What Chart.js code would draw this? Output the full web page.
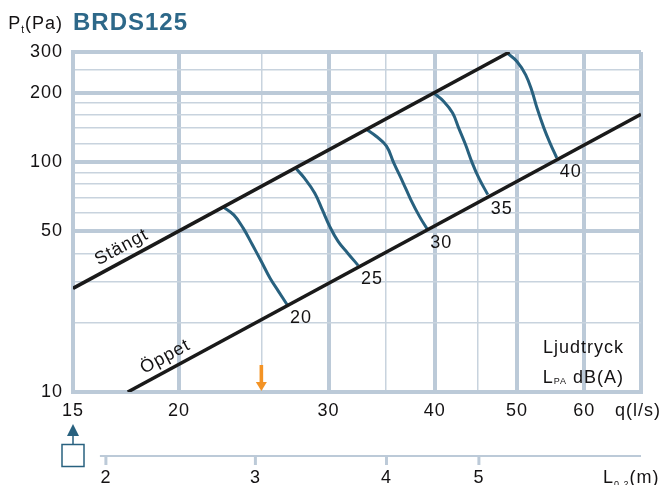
<!DOCTYPE html>
<html>
<head>
<meta charset="utf-8">
<title>BRDS125</title>
<script src="https://cdn.jsdelivr.net/npm/chart.js"></script>
<style>
  body { margin: 0; background: #fff; }
  #wrap { position: relative; width: 667px; height: 485px; }
</style>
</head>
<body>
<div id="wrap"><canvas id="chart"></canvas></div>
<script>
// damper lines, q (l/s) vs Pt (Pa)
const stangtQ = [15, 49];
const stangtP = [28.2, 300];
const oppetQ = [17.4, 70];
const oppetP = [10, 161];

// sound level curves, LpA dB(A)
const soundLevels = [20, 25, 30, 35, 40];
const soundQ = [
  [22.5, 23.2, 23.8, 24.4, 25.0, 25.6, 26.2, 26.8],
  [27.5, 28.1, 28.9, 29.5, 30.1, 30.8, 31.6, 32.5],
  [33.3, 34.1, 35.1, 35.8, 36.7, 37.5, 38.4, 39.2],
  [39.9, 41.0, 42.0, 42.7, 43.5, 44.3, 45.1, 46.2],
  [48.7, 50.0, 51.2, 52.1, 52.8, 53.8, 54.7, 55.7]
];
const soundP = [
  [63.9, 58.8, 51.5, 43.6, 36.9, 31.2, 27.3, 24.0],
  [93.0, 84.9, 73.1, 61.8, 52.3, 45.0, 40.1, 35.5],
  [137.8, 129.5, 117.0, 99.0, 81.5, 68.4, 57.8, 51.0],
  [198.9, 182.9, 162.8, 140.1, 118.6, 98.7, 84.9, 72.0],
  [296.9, 273, 238.8, 202.1, 171.2, 140.1, 120.6, 104.0]
];

// axes
const qTicks = [15, 20, 25, 30, 35, 40, 45, 50, 60, 70];
const qLabels = [15, 20, 30, 40, 50, 60];
const qMinor = [25, 35, 45];
const pTicks = [10, 20, 30, 40, 50, 60, 70, 80, 90, 100, 120, 140, 160, 180, 200, 250, 300];
const pLabels = [10, 50, 100, 200, 300];
// duct length scale under the q axis: L0.2 value and the q it sits at
const lenTicks = [2, 3, 4, 5];
const lenTickQ = [16.4, 24.6, 35.1, 45.1];
const markerQ = 25;
const stangtLabelQ = 17.4;
const oppetLabelQ = 19.6;

const FONT = 'Liberation Sans, Arial, Helvetica, sans-serif';
const TXT = '#141213';
const GRID_MAJ = '#bccad8';
const GRID_MIN = '#c8d3de';
const BLUE = '#28617f';

function font(size, bold) {
  return (bold ? 'bold ' : '') + size + 'px ' + FONT;
}

const datasets = [
  { data: stangtQ.map((q, i) => ({ x: q, y: stangtP[i] })), borderColor: '#1a1a1a', borderWidth: 3.5 },
  { data: oppetQ.map((q, i) => ({ x: q, y: oppetP[i] })), borderColor: '#1a1a1a', borderWidth: 3.5 }
];
soundLevels.forEach((lv, i) => {
  datasets.push({
    data: soundQ[i].map((q, j) => ({ x: q, y: soundP[i][j] })),
    borderColor: BLUE,
    borderWidth: 3,
    tension: 0.4
  });
});

const overlay = {
  id: 'overlay',
  beforeDraw(chart) {
    chart.ctx.letterSpacing = '1px';
  },
  afterDraw(chart) {
    const ctx = chart.ctx;
    const xs = chart.scales.x;
    const area = chart.chartArea;
    ctx.save();
    ctx.fillStyle = TXT;
    ctx.letterSpacing = '1px';

    // curve level numbers at the lower end of each curve
    ctx.font = font(18);
    ctx.textAlign = 'left';
    ctx.textBaseline = 'middle';
    soundLevels.forEach((lv, i) => {
      const pts = chart.getDatasetMeta(2 + i).data;
      const last = pts[pts.length - 1];
      ctx.fillText(String(lv), last.x + 3, last.y + 14);
    });

    // rotated labels along the damper lines
    function lineLabel(idx, q, text) {
      const pts = chart.getDatasetMeta(idx).data;
      const p0 = pts[0], p1 = pts[pts.length - 1];
      const ang = Math.atan2(p1.y - p0.y, p1.x - p0.x);
      const x = xs.getPixelForValue(q);
      const y = p0.y + (x - p0.x) * (p1.y - p0.y) / (p1.x - p0.x);
      ctx.save();
      ctx.translate(x + Math.sin(ang) * 13, y - Math.cos(ang) * 13);
      ctx.rotate(ang);
      ctx.textAlign = 'center';
      ctx.textBaseline = 'middle';
      ctx.fillText(text, 0, 0);
      ctx.restore();
    }
    lineLabel(0, stangtLabelQ, 'Stängt');
    lineLabel(1, oppetLabelQ, 'Öppet');

    // Ljudtryck / LPA dB(A)
    const rx = area.right - 17;
    ctx.textAlign = 'right';
    ctx.textBaseline = 'alphabetic';
    ctx.fillText('Ljudtryck', rx, area.bottom - 39);
    ctx.textAlign = 'left';
    ctx.font = font(18);
    const wL = ctx.measureText('L').width;
    const wRest = ctx.measureText(' dB(A)').width;
    ctx.font = font(9);
    const wSub = ctx.measureText('PA').width;
    let sx = rx - wL - wSub - wRest;
    const by = area.bottom - 9;
    ctx.font = font(18);
    ctx.fillText('L', sx, by);
    ctx.font = font(9);
    ctx.fillText('PA', sx + wL, by + 1);
    ctx.font = font(18);
    ctx.fillText(' dB(A)', sx + wL + wSub, by);

    // header: Pt(Pa) and BRDS125
    ctx.font = font(18);
    const wP = ctx.measureText('P').width;
    const wPa = ctx.measureText('(Pa)').width;
    ctx.font = font(10);
    const wt = ctx.measureText('t').width;
    sx = area.left - 10 - wP - wt - wPa;
    ctx.font = font(18);
    ctx.fillText('P', sx, 29);
    ctx.font = font(10);
    ctx.fillText('t', sx + wP, 33);
    ctx.font = font(18);
    ctx.fillText('(Pa)', sx + wP + wt, 29);
    ctx.font = font(24, true);
    ctx.fillStyle = '#2d6889';
    ctx.fillText('BRDS125', area.left, 30);
    ctx.fillStyle = TXT;

    // q axis title
    ctx.font = font(18);
    ctx.textBaseline = 'middle';
    ctx.fillText('q(l/s)', 615, area.bottom + 19);

    // orange marker arrow at the design flow
    const mx = xs.getPixelForValue(markerQ);
    ctx.fillStyle = '#f39325';
    ctx.fillRect(mx - 1.8, area.bottom - 27, 3.6, 18);
    ctx.beginPath();
    ctx.moveTo(mx - 5.5, area.bottom - 10);
    ctx.lineTo(mx + 5.5, area.bottom - 10);
    ctx.lineTo(mx, area.bottom - 1);
    ctx.closePath();
    ctx.fill();

    // blue arrow and box under the q axis start
    const bx = xs.getPixelForValue(qTicks[0]);
    ctx.fillStyle = BLUE;
    ctx.strokeStyle = BLUE;
    ctx.beginPath();
    ctx.moveTo(bx, area.bottom + 32);
    ctx.lineTo(bx - 6, area.bottom + 44);
    ctx.lineTo(bx + 6, area.bottom + 44);
    ctx.closePath();
    ctx.fill();
    ctx.lineWidth = 1.5;
    ctx.beginPath();
    ctx.moveTo(bx, area.bottom + 44);
    ctx.lineTo(bx, area.bottom + 52);
    ctx.stroke();
    ctx.strokeRect(bx - 11, area.bottom + 52.5, 22, 22);

    // L0.2 length scale
    const ly = area.bottom + 64;
    ctx.strokeStyle = GRID_MAJ;
    ctx.lineWidth = 2;
    ctx.beginPath();
    ctx.moveTo(xs.getPixelForValue(lenTickQ[0]) - 6, ly);
    ctx.lineTo(area.right, ly);
    ctx.stroke();
    ctx.lineWidth = 3;
    ctx.fillStyle = TXT;
    ctx.font = font(18);
    ctx.textAlign = 'center';
    ctx.textBaseline = 'alphabetic';
    lenTicks.forEach((v, i) => {
      const x = xs.getPixelForValue(lenTickQ[i]);
      ctx.beginPath();
      ctx.moveTo(x, ly);
      ctx.lineTo(x, ly + 9);
      ctx.stroke();
      ctx.fillText(String(v), x, 483);
    });
    ctx.textAlign = 'left';
    const wL2 = ctx.measureText('L').width;
    ctx.font = font(18);
    ctx.fillText('L', 603, 483);
    ctx.font = font(9);
    ctx.fillText('0.2', 603 + wL2, 487);
    const w02 = ctx.measureText('0.2').width;
    ctx.font = font(18);
    ctx.fillText('(m)', 603 + wL2 + w02, 483);

    ctx.restore();
  }
};

new Chart(document.getElementById('chart'), {
  type: 'line',
  data: { datasets: datasets },
  options: {
    responsive: true,
    maintainAspectRatio: false,
    animation: false,
    layout: { padding: { top: 52, right: 26, left: 0, bottom: 0 } },
    elements: { point: { radius: 0 }, line: { fill: false } },
    plugins: { legend: { display: false }, tooltip: { enabled: false } },
    scales: {
      x: {
        type: 'logarithmic',
        min: 15,
        max: 70,
        afterFit: s => { s.height = 93; },
        afterBuildTicks: s => { s.ticks = qTicks.map(v => ({ value: v })); },
        ticks: {
          autoSkip: false,
          maxRotation: 0,
          padding: 8,
          color: TXT,
          font: { family: FONT, size: 18 },
          callback: v => qLabels.includes(v) ? String(v) : ''
        },
        grid: {
          drawTicks: false,
          color: c => qMinor.includes(c.tick && c.tick.value) ? GRID_MIN : GRID_MAJ,
          lineWidth: c => qMinor.includes(c.tick && c.tick.value) ? 1.5 : 4
        },
        border: { display: true, width: 4, color: GRID_MAJ }
      },
      y: {
        type: 'logarithmic',
        min: 10,
        max: 300,
        afterFit: s => { s.width = 73; },
        afterBuildTicks: s => { s.ticks = pTicks.map(v => ({ value: v })); },
        ticks: {
          autoSkip: false,
          padding: 10,
          color: TXT,
          font: { family: FONT, size: 18 },
          callback: v => pLabels.includes(v) ? String(v) : ''
        },
        grid: {
          drawTicks: false,
          color: c => pLabels.includes(c.tick && c.tick.value) ? GRID_MAJ : GRID_MIN,
          lineWidth: c => pLabels.includes(c.tick && c.tick.value) ? 4 : 1.5
        },
        border: { display: true, width: 4, color: GRID_MAJ }
      }
    }
  },
  plugins: [overlay]
});
</script>
</body>
</html>
